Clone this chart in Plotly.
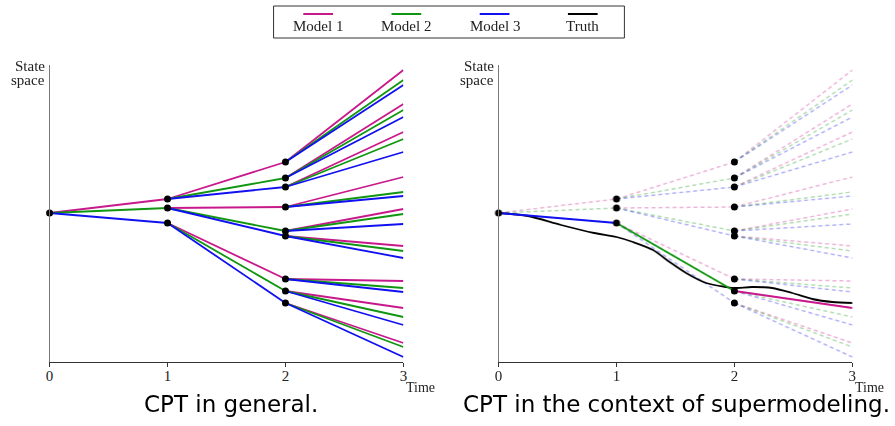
import plotly.graph_objects as go

# ---------------- data (state values) ----------------
times = [0, 1, 2, 3]
tick_labels = ["0", "1", "2", "3"]
model_names = ["Model 1", "Model 2", "Model 3"]
model_colors = ["#C8198C", "#109610", "#1010F0"]

root = 14.9
# state at time 1 reached from root by model 1, 2, 3
t1 = [16.3, 15.4, 13.9]
# state at time 2: t2[parent][model]
t2 = [[20.0, 18.4, 17.5],
      [15.5, 13.1, 12.6],
      [8.3, 7.1, 5.9]]
# state at time 3: t3[parent_t1][parent_t2][model]
t3 = [[[29.2, 28.2, 27.7], [25.8, 25.2, 24.5], [23.0, 22.3, 21.0]],
      [[18.5, 17.0, 16.6], [15.3, 14.8, 13.8], [11.6, 11.1, 10.4]],
      [[8.1, 7.4, 7.0], [5.4, 4.5, 3.7], [1.9, 1.5, 0.5]]]

# supermodel path chosen in the right panel: model per step
chosen = [2, 1, 0]

truth_t = [0, 0.25, 0.53, 0.81, 1.0, 1.14, 1.31, 1.45, 1.59, 1.76, 1.93, 2.0,
           2.15, 2.32, 2.49, 2.66, 2.83, 3.0]
truth_y = [14.9, 14.6, 13.7, 12.9, 12.5, 12.0, 11.2, 10.0, 8.9, 7.9, 7.5, 7.4,
           7.5, 7.4, 6.9, 6.3, 6.0, 5.9]

captions = ["CPT in general.", "CPT in the context of supermodeling."]
y_top = 29.7

# ---------------- helpers ----------------
def model_segments(k):
    xs, ys = [], []
    xs += [0, 1, None]; ys += [root, t1[k], None]
    for i in range(3):
        xs += [1, 2, None]; ys += [t1[i], t2[i][k], None]
    for i in range(3):
        for j in range(3):
            xs += [2, 3, None]; ys += [t2[i][j], t3[i][j][k], None]
    return xs, ys

dot_x = [0] + [1] * 3 + [2] * 9
dot_y = [root] + t1 + [v for row in t2 for v in row]

fig = go.Figure()

# ---------------- left panel ----------------
for k in range(3):
    xs, ys = model_segments(k)
    fig.add_trace(go.Scatter(x=xs, y=ys, mode="lines", xaxis="x", yaxis="y",
                             line=dict(color=model_colors[k], width=1.8),
                             cliponaxis=False, showlegend=False, hoverinfo="skip"))
fig.add_trace(go.Scatter(x=dot_x, y=dot_y, mode="markers", xaxis="x", yaxis="y",
                         marker=dict(color="black", size=7), cliponaxis=False,
                         showlegend=False, hoverinfo="skip"))

# ---------------- right panel ----------------
for k in range(3):
    xs, ys = model_segments(k)
    fig.add_trace(go.Scatter(x=xs, y=ys, mode="lines", xaxis="x2", yaxis="y2",
                             line=dict(color=model_colors[k], width=1.5, dash="4px,3px"),
                             opacity=0.32, cliponaxis=False, showlegend=False,
                             hoverinfo="skip"))
fig.add_trace(go.Scatter(x=truth_t, y=truth_y, mode="lines", xaxis="x2", yaxis="y2",
                         line=dict(color="black", width=1.8, shape="spline", smoothing=0.8),
                         cliponaxis=False, showlegend=False, hoverinfo="skip"))
a, b, c = chosen
path_x = [[0, 1], [1, 2], [2, 3]]
path_y = [[root, t1[a]], [t1[a], t2[a][b]], [t2[a][b], t3[a][b][c]]]
for step, m in enumerate(chosen):
    fig.add_trace(go.Scatter(x=path_x[step], y=path_y[step], mode="lines",
                             xaxis="x2", yaxis="y2",
                             line=dict(color=model_colors[m], width=1.8),
                             cliponaxis=False, showlegend=False, hoverinfo="skip"))
fig.add_trace(go.Scatter(x=dot_x, y=dot_y, mode="markers", xaxis="x2", yaxis="y2",
                         marker=dict(color="black", size=7), cliponaxis=False,
                         showlegend=False, hoverinfo="skip"))

# ---------------- axes ----------------
W, H = 895, 426
serif = "Liberation Serif"
xaxis_common = dict(range=[0, 3], tickvals=times, ticktext=tick_labels,
                    showgrid=False, zeroline=False, showline=True,
                    linecolor="#333", linewidth=1, ticks="outside", ticklen=4,
                    tickcolor="#333", ticklabelstandoff=-4,
                    tickfont=dict(family=serif, size=15, color="#222"),
                    fixedrange=True)
yaxis_common = dict(range=[0, y_top], showgrid=False, zeroline=False, showline=True,
                    linecolor="#777", linewidth=1.3, showticklabels=False, ticks="",
                    domain=[(H - 362) / H, (H - 65) / H], fixedrange=True)

fig.update_layout(
    width=W, height=H, margin=dict(l=0, r=0, t=0, b=0),
    paper_bgcolor="white", plot_bgcolor="white",
    xaxis=dict(domain=[46 / W, 403 / W], anchor="y", **xaxis_common),
    yaxis=dict(anchor="x", **yaxis_common),
    xaxis2=dict(domain=[499 / W, 856 / W], anchor="y2", **xaxis_common),
    yaxis2=dict(anchor="x2", **yaxis_common),
    showlegend=False,
)

ann = []
for xr, yr in [("x", "y"), ("x2", "y2")]:
    # axis arrow
    ann.append(dict(x=0, y=y_top + 0.3, xref=xr, yref=yr, ax=0, ay=12,
                    showarrow=True, arrowhead=2, arrowsize=0.7, arrowwidth=1.3,
                    arrowcolor="#555", text=""))
    ann.append(dict(x=0, y=y_top, xref=xr, yref=yr, text="State",
                    showarrow=False, xanchor="right", yanchor="middle", xshift=-3, yshift=-1,
                    font=dict(family=serif, size=15, color="#222")))
    ann.append(dict(x=0, y=y_top, xref=xr, yref=yr, text="space",
                    showarrow=False, xanchor="right", yanchor="middle", xshift=-3, yshift=-15,
                    font=dict(family=serif, size=15, color="#222")))
    ann.append(dict(x=3, y=0, xref=xr, yref=yr, text="Time", showarrow=False,
                    xanchor="left", yanchor="middle", xshift=1, yshift=-25,
                    font=dict(family=serif, size=14, color="#222")))

ann.append(dict(x=229.5 / W, y=(H - 404) / H, xref="paper", yref="paper",
                text=captions[0], showarrow=False, xanchor="center", yanchor="middle",
                font=dict(family="DejaVu Sans", size=23, color="black")))
ann.append(dict(x=679 / W, y=(H - 404) / H, xref="paper", yref="paper",
                text=captions[1], showarrow=False,
                xanchor="center", yanchor="middle",
                font=dict(family="DejaVu Sans", size=23, color="black")))

# ---------------- custom legend (line sample above label) ----------------
shapes = [dict(type="rect", xref="paper", yref="paper",
               x0=272 / W, x1=626 / W, y0=(H - 38) / H, y1=(H - 6) / H,
               line=dict(color="#333", width=1), fillcolor="white", layer="below")]
leg_names = model_names + ["Truth"]
leg_colors = model_colors + ["black"]
leg_cx = [317, 406, 495, 584]
for name, col, cx in zip(leg_names, leg_colors, leg_cx):
    shapes.append(dict(type="line", xref="paper", yref="paper",
                       x0=(cx - 15) / W, x1=(cx + 15) / W,
                       y0=(H - 14) / H, y1=(H - 14) / H,
                       line=dict(color=col, width=2)))
    ann.append(dict(x=cx / W, y=(H - 26) / H, xref="paper", yref="paper",
                    text=name, showarrow=False, xanchor="center", yanchor="middle",
                    font=dict(family=serif, size=15, color="#222")))

fig.update_layout(annotations=ann, shapes=shapes)
fig.write_html("out.html", config={"displayModeBar": False},
               post_script="document.body.style.margin='0px';")
